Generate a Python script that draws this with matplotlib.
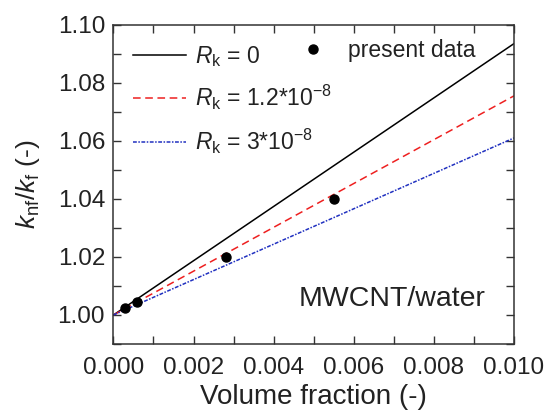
import numpy as np
import matplotlib
matplotlib.use('Agg')
import matplotlib.pyplot as plt
from matplotlib.ticker import MultipleLocator

plt.rcParams['font.family'] = ['Liberation Sans', 'DejaVu Sans']
plt.rcParams['mathtext.fontset'] = 'custom'
plt.rcParams['mathtext.it'] = 'Liberation Sans:italic'
plt.rcParams['mathtext.rm'] = 'Liberation Sans'

# Datos
phi_lineas = [0.0, 0.010]
k_rk0 = [1.0, 1.0935]
k_rk12 = [1.0, 1.0755]
k_rk3 = [1.0, 1.0610]

phi_datos = [0.0003, 0.0006, 0.0028, 0.0055]
k_datos = [1.0025, 1.0045, 1.0200, 1.0400]

fig, ax = plt.subplots(figsize=(5.48, 4.12), dpi=100)
fig.subplots_adjust(left=0.207, right=0.938, top=0.94, bottom=0.165)

l1, = ax.plot(phi_lineas, k_rk0, color='black', lw=1.1, label=r'$R_{\mathrm{k}}$ = 0')
l2, = ax.plot(phi_lineas, k_rk12, color='#ee2020', lw=1.1, linestyle=(0, (5, 3)),
              label=r'$R_{\mathrm{k}}$ = 1.2*10$^{-8}$')
l3, = ax.plot(phi_lineas, k_rk3, color='#2030c0', lw=1.1, linestyle=(0, (2.5, 1, 1, 1)),
              label=r'$R_{\mathrm{k}}$ = 3*10$^{-8}$')
p1, = ax.plot(phi_datos, k_datos, 'o', color='black', ms=6.5, linestyle='none',
              label='present data')

ax.set_xlim(0, 0.010)
ax.set_ylim(0.99, 1.10)
ax.xaxis.set_major_locator(MultipleLocator(0.002))
ax.xaxis.set_minor_locator(MultipleLocator(0.001))
ax.yaxis.set_major_locator(MultipleLocator(0.02))
ax.yaxis.set_minor_locator(MultipleLocator(0.01))
ax.xaxis.set_major_formatter(plt.FormatStrFormatter('%.3f'))
ax.yaxis.set_major_formatter(plt.FormatStrFormatter('%.2f'))
ax.tick_params(which='both', direction='in', top=True, right=True, labelsize=17.5,
               width=1.0, color='#333333', labelcolor='#222222')
ax.tick_params(which='major', length=6)
ax.tick_params(which='minor', length=6)
ax.tick_params(axis='x', pad=9)
ax.tick_params(axis='y', pad=6)
for s in ax.spines.values():
    s.set_linewidth(1.1)
    s.set_color('#333333')

ax.set_xlabel('Volume fraction (-)', fontsize=20, color='#222222', labelpad=4)
ax.set_ylabel(r'$k_{\mathrm{nf}}/k_{\mathrm{f}}$ (-)', fontsize=19, color='#222222', labelpad=11)

leg1 = ax.legend(handles=[l1, l2, l3], frameon=False, fontsize=16.5, loc='upper left',
                 handlelength=2.3, handletextpad=0.4, labelspacing=0.62, borderaxespad=0.45,
                 labelcolor='#222222')
ax.add_artist(leg1)
ax.legend(handles=[p1], frameon=False, fontsize=16.5, loc='upper left',
          bbox_to_anchor=(0.459, 0.955), borderpad=0, borderaxespad=0,
          handlelength=1.4, handletextpad=0.8, labelcolor='#222222')

ax.text(0.0093, 1.0055, 'MWCNT/water', fontsize=20.5, ha='right', va='center', color='#222222')

plt.savefig('out.png', dpi=100)
